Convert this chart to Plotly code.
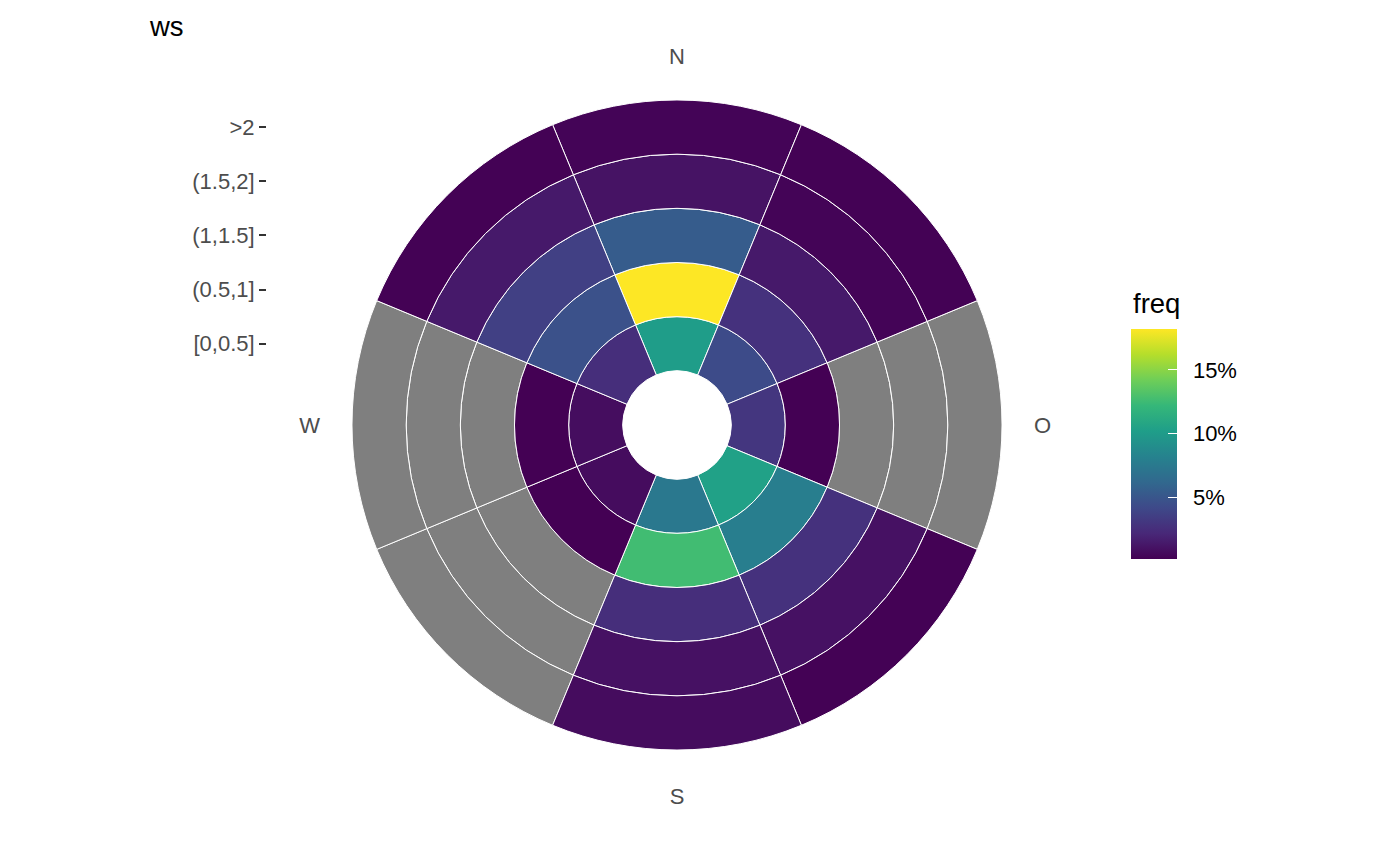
import plotly.graph_objects as go

# ---- data ----
directions = ["N", "NO", "O", "SO", "S", "SW", "W", "NW"]
direction_angle = [0, 45, 90, 135, 180, 225, 270, 315]
ws_bins = ["[0,0.5]", "(0.5,1]", "(1,1.5]", "(1.5,2]", ">2"]

# freq (%) per direction, one list per wind-speed bin (None = NA)
freq_0_05 = [10.1, 4.3, 3.0, 10.4, 7.4, 0.7, 0.8, 2.5]
freq_05_1 = [18.2, 2.7, 0.16, 7.9, 12.6, 0.16, 0.16, 4.7]
freq_1_15 = [5.4, 1.4, None, 2.7, 2.5, None, None, 3.6]
freq_15_2 = [1.06, 0.3, None, 1.0, 1.0, None, None, 1.4]
freq_gt2 = [0.3, 0.2, None, 0.2, 0.7, None, None, 0.2]
freq_rows = [freq_0_05, freq_05_1, freq_1_15, freq_15_2, freq_gt2]

compass_ticks = [0, 90, 180, 270]
compass_labels = ["N", "O", "S", "W"]
cbar_ticks = [5, 10, 15]
cbar_labels = ["\u20025%", "\u200210%", "\u200215%"]

CMIN, CMAX = 0.16, 18.2

# ---- geometry (pixels, page coords minus the 8px body margin) ----
W, H = 1400, 866
OFF = 8
CX, CY = 677 - OFF, 425 - OFF
UNIT = 54.17
RMAX = 6.58
RPX = UNIT * RMAX

theta_c, base_c, col_c = [], [], []
theta_na, base_na = [], []
for i, row in enumerate(freq_rows):
    for j, v in enumerate(row):
        if v is None:
            theta_na.append(direction_angle[j])
            base_na.append(i + 1)
        else:
            theta_c.append(direction_angle[j])
            base_c.append(i + 1)
            col_c.append(v)

TXT = 22
TTL = 27.5

fig = go.Figure()
fig.add_trace(go.Barpolar(
    r=[1] * len(theta_na), base=base_na, theta=theta_na, width=45,
    marker=dict(color="#7f7f7f", line=dict(color="white", width=1)),
    showlegend=False, hoverinfo="skip"))
fig.add_trace(go.Barpolar(
    r=[1] * len(theta_c), base=base_c, theta=theta_c, width=45,
    marker=dict(color=col_c, colorscale="Viridis", cmin=CMIN, cmax=CMAX,
                line=dict(color="white", width=1),
                colorbar=dict(
                    x=(1131 - OFF) / W, xanchor="left",
                    y=(H - (444 - OFF)) / H, yanchor="middle",
                    len=230, lenmode="pixels", thickness=46, thicknessmode="pixels",
                    outlinewidth=0, xpad=0, ypad=0,
                    ticks="inside", tickcolor="white", ticklen=9, tickwidth=1,
                    tickvals=cbar_ticks, ticktext=cbar_labels,
                    tickfont=dict(size=TXT, color="black"))),
    showlegend=False))

# invisible scatter to carry the left ws axis
fig.add_trace(go.Scatter(x=[0, 0], y=[1.5, 5.5], mode="markers",
                         marker=dict(opacity=0), showlegend=False,
                         hoverinfo="skip", xaxis="x", yaxis="y"))

AXX = 267 - OFF

fig.update_layout(
    width=W, height=H,
    margin=dict(l=0, r=0, t=0, b=0),
    paper_bgcolor="white", plot_bgcolor="rgba(0,0,0,0)",
    font=dict(family="Liberation Sans, Arial, sans-serif"),
    polar=dict(
        domain=dict(x=[(CX - RPX) / W, (CX + RPX) / W],
                    y=[(H - CY - RPX) / H, (H - CY + RPX) / H]),
        bgcolor="white",
        radialaxis=dict(range=[0, RMAX], visible=False, showgrid=False),
        angularaxis=dict(rotation=90, direction="clockwise",
                         tickmode="array", tickvals=compass_ticks,
                         ticktext=compass_labels, showgrid=False,
                         showline=False, ticks="",
                         tickfont=dict(size=TXT, color="#4d4d4d")),
    ),
    xaxis=dict(domain=[AXX / W, (AXX + 1) / W], visible=False, range=[-1, 1]),
    yaxis=dict(domain=[(H - CY) / H, (H - CY + RPX) / H], range=[0, RMAX],
               anchor="x", tickmode="array", tickvals=[1.5, 2.5, 3.5, 4.5, 5.5],
               ticktext=ws_bins, showgrid=False, zeroline=False, showline=False,
               ticks="outside", ticklen=7, tickwidth=2, tickcolor="#333333",
               tickfont=dict(size=TXT, color="#4d4d4d")),
    annotations=[
        dict(text="ws", x=(147 - OFF) / W, y=(H - (27 - OFF)) / H, xref="paper",
             yref="paper", xanchor="left", yanchor="middle",
             showarrow=False, font=dict(size=TTL, color="black")),
        dict(text="freq", x=(1131 - OFF) / W, y=(H - (303 - OFF)) / H, xref="paper",
             yref="paper", xanchor="left", yanchor="middle",
             showarrow=False, font=dict(size=TTL, color="black")),
    ],
)

fig.write_html("out.html")
